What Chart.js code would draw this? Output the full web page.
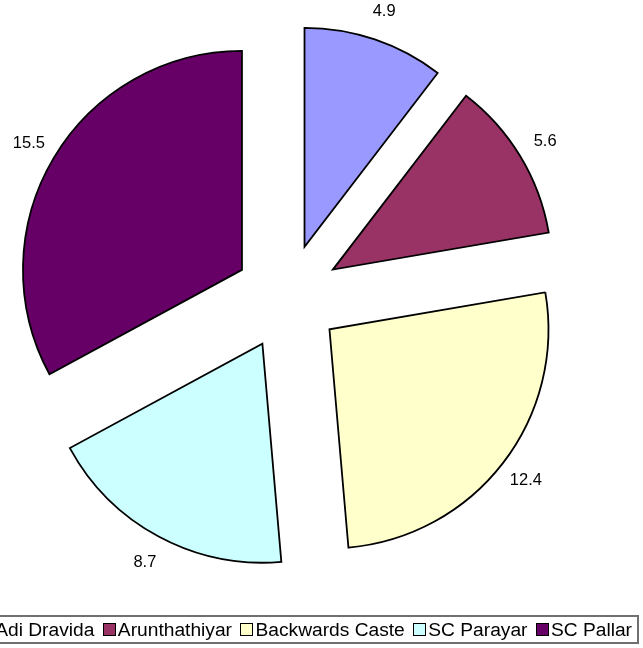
<!DOCTYPE html>
<html>
<head>
    <title>Caste Distribution</title>
    <script src="https://cdn.jsdelivr.net/npm/chart.js"></script>
    <style>
        body {
            margin: 0;
            width: 643px;
            height: 648px;
            overflow: hidden;
            position: relative;
            background: #fff;
            font-family: "Liberation Sans", Arial, sans-serif;
        }
        .chart-wrap {
            position: absolute;
            left: 0;
            top: 0;
            width: 643px;
            height: 648px;
        }
        .legend {
            position: absolute;
            right: 4px;
            top: 615px;
            height: 25px;
            border: 2px solid #707070;
            display: flex;
            align-items: center;
            white-space: nowrap;
            padding: 0 5px 0 0;
            font-size: 19.2px;
            color: #000;
        }
        .legend-item {
            display: flex;
            align-items: center;
            margin-left: 8.5px;
        }
        .legend-box {
            width: 11px;
            height: 11px;
            border: 1px solid #000;
            margin-right: 2px;
        }
    </style>
</head>
<body>
    <div class="chart-wrap">
        <canvas id="pie"></canvas>
    </div>
    <div class="legend" id="legend"></div>

    <script>
        const categories = ['Adi Dravida', 'Arunthathiyar', 'Backwards Caste', 'SC Parayar', 'SC Pallar'];
        const values = [4.9, 5.6, 12.4, 8.7, 15.5];
        const colors = ['#9999FF', '#993366', '#FFFFCC', '#CCFFFF', '#660066'];

        const EXPLODE = 53;

        // pull each slice out along its middle angle, same radius for all
        const explodePlugin = {
            id: 'explode',
            beforeDatasetDraw(chart, args) {
                const ctx = chart.ctx;
                args.meta.data.forEach(arc => {
                    const mid = (arc.startAngle + arc.endAngle) / 2;
                    ctx.save();
                    ctx.translate(Math.cos(mid) * EXPLODE, Math.sin(mid) * EXPLODE);
                    arc.draw(ctx);
                    ctx.restore();
                });
                return false;
            }
        };

        // value labels outside each slice
        const valueLabels = {
            id: 'valueLabels',
            afterDatasetsDraw(chart) {
                const ctx = chart.ctx;
                const meta = chart.getDatasetMeta(0);
                ctx.save();
                ctx.font = '16.5px "Liberation Sans", Arial, sans-serif';
                ctx.fillStyle = '#000';
                ctx.textAlign = 'center';
                ctx.textBaseline = 'middle';
                meta.data.forEach((arc, i) => {
                    const mid = (arc.startAngle + arc.endAngle) / 2;
                    const r = arc.outerRadius + EXPLODE + 29;
                    ctx.fillText(values[i].toFixed(1), arc.x + Math.cos(mid) * r, arc.y + Math.sin(mid) * r);
                });
                ctx.restore();
            }
        };

        new Chart(document.getElementById('pie'), {
            type: 'pie',
            data: {
                labels: categories,
                datasets: [{
                    data: values,
                    backgroundColor: colors,
                    borderColor: '#000',
                    borderWidth: 1.8,
                    borderJoinStyle: 'miter'
                }]
            },
            options: {
                responsive: true,
                maintainAspectRatio: false,
                animation: false,
                radius: 219,
                layout: {
                    padding: { left: 0, right: 68, top: 0, bottom: 54 }
                },
                plugins: {
                    legend: { display: false },
                    tooltip: { enabled: false }
                }
            },
            plugins: [explodePlugin, valueLabels]
        });

        // legend row under the pie
        const legend = document.getElementById('legend');
        categories.forEach((name, i) => {
            const item = document.createElement('div');
            item.className = 'legend-item';
            const box = document.createElement('span');
            box.className = 'legend-box';
            box.style.background = colors[i];
            const text = document.createElement('span');
            text.textContent = name;
            item.appendChild(box);
            item.appendChild(text);
            legend.appendChild(item);
        });
    </script>
</body>
</html>
